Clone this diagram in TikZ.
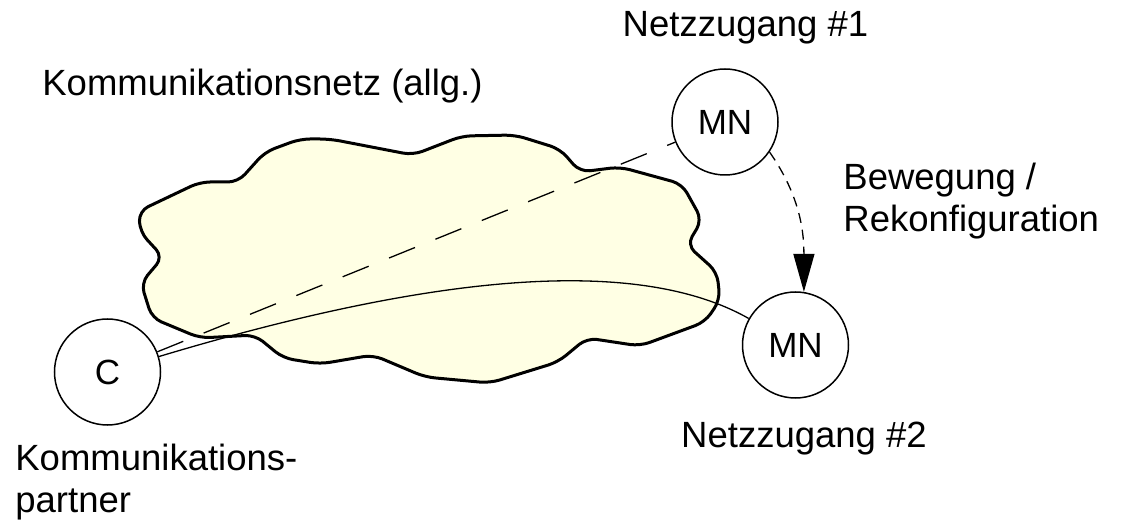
\documentclass[tikz,border=0pt]{standalone}
\usepackage{fontspec}
\setmainfont{Liberation Sans}
\usetikzlibrary{arrows.meta}
\definecolor{cloudfill}{RGB}{255,255,228}
\tikzset{
  lbl/.style={inner sep=0pt, font=\fontsize{18.25}{21}\selectfont},
  station/.style={circle, draw, line width=0.75pt, minimum size=53pt, inner sep=0pt, fill=white,
    font=\fontsize{17.5}{20}\selectfont},
  cloudline/.style={draw=black, fill=cloudfill, line width=1.5pt, rounded corners=5pt, line join=round},
  conn/.style={line width=0.65pt},
  dashconn/.style={line width=0.65pt, dash pattern=on 14pt off 11pt},
  moveconn/.style={line width=0.65pt, dash pattern=on 5pt off 3.5pt, -{Triangle[length=19pt,width=10.5pt]}}
}
\begin{document}
\begin{tikzpicture}[x=0.5pt,y=-0.5pt]
\useasboundingbox (0,0) rectangle (1124,523);
% cloud
\path[cloudline] (139,211) -- (200,182) -- (238,182) -- (265,152) -- (300,139) -- (330,139)
  -- (413,155) -- (462,136) -- (515,135) -- (560,149) -- (580,172) -- (620,167)
  -- (682,184) -- (702,220) -- (687,245) -- (717,272) -- (720,300) -- (705,322)
  -- (640,346) -- (587,338) -- (558,362) -- (490,383) -- (425,377) -- (373,355)
  -- (320,364) -- (283,358) -- (255,335) -- (200,338) -- (152,318) -- (141,283)
  -- (163,257) -- (140,232) -- cycle;
% stations
\node[station] (C) at (107.5,372) {C};
\node[station] (MN1) at (725,122) {MN};
\node[station] (MN2) at (795.5,345) {MN};
% connectors
\draw[dashconn] (C) -- (MN1);
\draw[conn] (C) .. controls (447,270) and (642,258) .. (MN2);
\draw[moveconn] (MN1.-34) to[out=-55, in=90] (MN2.81);
% labels
\node[lbl, anchor=base] (n1) at (745.5,37) {Netzzugang \#1};
\node[lbl, anchor=base west] (knet) at (42,96) {Kommunikationsnetz (allg.)};
\node[lbl, anchor=base west, align=left] (bew) at (843,232) {Bewegung /\\Rekonfiguration};
\node[lbl, anchor=base] (n2) at (804,447) {Netzzugang \#2};
\node[lbl, anchor=base west, align=left] (kp) at (15,512) {Kommunikations-\\partner};
\end{tikzpicture}
\end{document}
